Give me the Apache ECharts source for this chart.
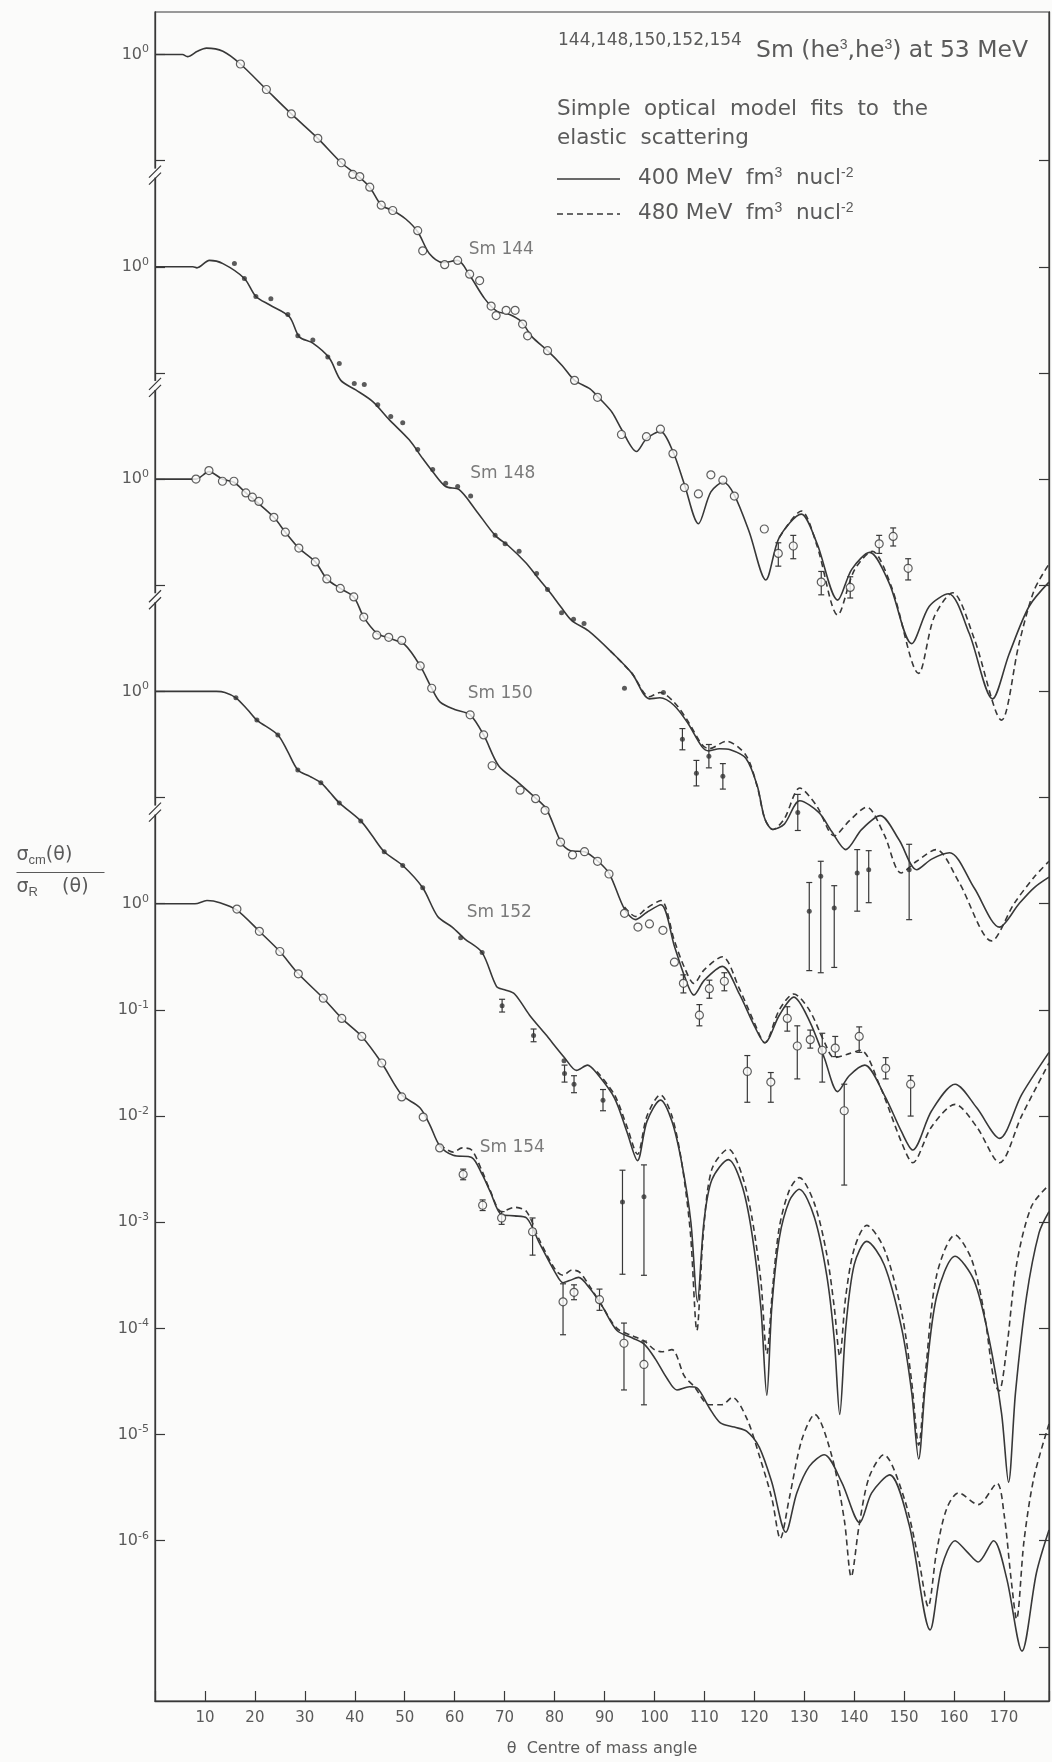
<!DOCTYPE html>
<html><head><meta charset="utf-8">
<script src="https://cdn.jsdelivr.net/npm/echarts/dist/echarts.min.js"></script>
<style>html,body{margin:0;padding:0;background:#fbfbfa}#chart{width:1052px;height:1762px}</style>
</head><body><div id="chart"></div>
<script>
// ---- values: [angle (deg), log10(sigma_cm / sigma_R)] ----
// Sm 144
const sm144Fit400 = [[0,0],[5.5,0],[6.5,-0.02],[8.5,0.03],[10.3,0.06],[13.6,0.03],[17.1,-0.09],[22.3,-0.33],[27.3,-0.56],[32.6,-0.79],[37.3,-1.02],[40.3,-1.13],[43,-1.25],[45.3,-1.42],[47.6,-1.47],[50.2,-1.55],[52.6,-1.67],[55,-1.88],[57.6,-1.96],[60.6,-1.94],[63,-2.08],[66,-2.3],[68.5,-2.42],[71,-2.45],[73.4,-2.52],[75.5,-2.66],[78.6,-2.79],[81.5,-2.93],[84,-3.07],[87.1,-3.15],[89,-3.24],[91.5,-3.37],[93.4,-3.53],[96.4,-3.74],[98.4,-3.62],[101.2,-3.55],[103.7,-3.74],[106,-4.05],[108.8,-4.42],[111.3,-4.12],[113.8,-4.03],[116,-4.15],[119,-4.5],[122.3,-4.95],[125,-4.55],[129.4,-4.33],[132.5,-4.6],[136.7,-5.14],[139.5,-4.85],[143.1,-4.69],[147,-4.98],[151.5,-5.55],[155,-5.2],[158.9,-5.08],[163,-5.45],[167.7,-6.07],[171,-5.65],[175,-5.2],[179,-4.97]];
const sm144Fit480 = [[125,-4.55],[129.4,-4.3],[132.5,-4.62],[136.7,-5.28],[140,-4.86],[143.6,-4.68],[147.5,-5.02],[152.9,-5.83],[156,-5.3],[159.7,-5.07],[164,-5.5],[169.5,-6.27],[173,-5.55],[176,-5.05],[179,-4.8]];
const sm144Data = [[17.1,-0.09],[22.3,-0.33],[27.3,-0.56],[32.6,-0.79],[37.3,-1.02],[39.6,-1.13],[41,-1.15],[43,-1.25],[45.3,-1.42],[47.6,-1.47],[52.6,-1.66],[53.6,-1.85],[58,-1.98],[60.6,-1.94],[63,-2.07],[65,-2.13],[67.3,-2.37],[68.3,-2.46],[70.3,-2.41],[72.1,-2.41],[73.6,-2.54],[74.6,-2.65],[78.6,-2.79],[84,-3.07],[88.6,-3.23],[93.4,-3.58],[98.4,-3.60],[101.2,-3.53],[103.7,-3.76],[106,-4.08],[108.8,-4.14],[111.3,-3.96],[113.7,-4.01],[116,-4.16],[122,-4.47]];
const sm144Err = [[124.8,-4.70,-4.60,-4.82],[127.8,-4.63,-4.53,-4.75],[133.4,-4.97,-4.87,-5.09],[139.2,-5.02,-4.92,-5.12],[145,-4.61,-4.53,-4.70],[147.8,-4.54,-4.46,-4.63],[150.8,-4.84,-4.75,-4.95]];
// Sm 148
const sm148Fit400 = [[0,0],[7.6,0],[8.4,-0.01],[10.9,0.06],[13.6,0.03],[17.9,-0.11],[20.2,-0.28],[23,-0.36],[26.9,-0.47],[28.9,-0.66],[31.6,-0.72],[34.9,-0.86],[37.2,-1.07],[40.2,-1.16],[43.6,-1.27],[46.9,-1.44],[50.9,-1.63],[53.5,-1.8],[55.6,-1.93],[58.2,-2.07],[60.9,-2.10],[64.2,-2.29],[68.1,-2.53],[70.8,-2.63],[74.3,-2.79],[76.5,-2.92],[79.3,-3.08],[81.2,-3.2],[83.4,-3.33],[86.8,-3.43],[91.2,-3.62],[95.5,-3.83],[99,-4.07],[101.1,-4.06],[103.9,-4.13],[106.7,-4.30],[109.5,-4.52],[110.9,-4.56],[113,-4.54],[115.2,-4.55],[118.3,-4.63],[120.6,-4.89],[122.1,-5.2],[123.7,-5.30],[126,-5.25],[129.1,-5.03],[132.9,-5.14],[135.5,-5.32],[138.3,-5.49],[141.5,-5.3],[145.2,-5.17],[149,-5.4],[152.5,-5.68],[155.5,-5.58],[159.1,-5.52],[164,-5.85],[169.1,-6.22],[173,-6.0],[176,-5.85],[179,-5.75]];
const sm148Fit480 = [[91.2,-3.62],[95.5,-3.83],[99,-4.05],[101.1,-4.01],[103.9,-4.1],[106.7,-4.28],[109.5,-4.5],[110.9,-4.54],[114.4,-4.47],[118.3,-4.6],[120.6,-4.9],[122.1,-5.2],[123.7,-5.3],[126,-5.2],[129.1,-4.91],[132.5,-5.08],[136,-5.36],[139,-5.22],[142.5,-5.09],[146,-5.35],[149.4,-5.71],[152.5,-5.6],[156.4,-5.49],[161,-5.8],[167.5,-6.35],[172,-6.0],[176,-5.75],[179,-5.6]];
const sm148Data = [[15.9,0.03],[17.9,-0.11],[20.2,-0.28],[23.2,-0.30],[26.6,-0.45],[28.6,-0.65],[31.6,-0.69],[34.6,-0.85],[36.9,-0.91],[39.9,-1.10],[41.9,-1.11],[44.6,-1.30],[47.2,-1.41],[49.6,-1.47],[52.6,-1.72],[55.6,-1.91],[58.2,-2.04],[60.6,-2.07],[63.2,-2.16],[68.1,-2.53],[70.1,-2.61],[72.9,-2.68],[76.4,-2.89],[78.6,-3.04],[81.4,-3.26],[83.8,-3.32],[85.9,-3.36],[94,-3.97],[101.8,-4.01]];
const sm148Err = [[105.6,-4.45,-4.35,-4.55],[108.4,-4.77,-4.65,-4.89],[110.9,-4.61,-4.50,-4.72],[113.7,-4.80,-4.68,-4.92],[128.7,-5.14,-4.97,-5.31],[131,-6.07,-5.80,-6.63],[133.3,-5.74,-5.60,-6.65],[136,-6.04,-5.83,-6.60],[140.6,-5.71,-5.49,-6.07],[142.9,-5.68,-5.50,-5.99],[151,-5.68,-5.44,-6.15]];
// Sm 150
const sm150Fit400 = [[0,0],[8.2,0],[10.8,0.07],[13.5,0.0],[15.8,-0.03],[18.2,-0.13],[20,-0.2],[23.8,-0.36],[26.1,-0.50],[28.8,-0.65],[32.1,-0.78],[34.4,-0.94],[37.1,-1.03],[39.8,-1.11],[41.8,-1.30],[44.4,-1.45],[47,-1.50],[50,-1.56],[53.1,-1.76],[55.4,-1.97],[57.1,-2.10],[60,-2.17],[63.1,-2.22],[65.8,-2.41],[68.8,-2.70],[72.3,-2.84],[76.1,-3.00],[78.4,-3.11],[81.3,-3.42],[83.2,-3.50],[86,-3.51],[88.7,-3.60],[91,-3.72],[94,-4.05],[96.2,-4.15],[98.5,-4.08],[101.3,-4.01],[104,-4.4],[106,-4.68],[107.9,-4.86],[110,-4.72],[113.6,-4.59],[117,-4.85],[120,-5.15],[122.1,-5.31],[125,-5.05],[127.9,-4.88],[131,-5.1],[134,-5.45],[136.7,-5.77],[139,-5.62],[142.1,-5.52],[146,-5.8],[149.5,-6.15],[151.7,-6.32],[155.5,-5.95],[160.2,-5.70],[164.5,-5.92],[169.1,-6.21],[173.5,-5.8],[179,-5.4]];
const sm150Fit480 = [[94,-4.03],[96.2,-4.12],[98.5,-4.04],[101.3,-3.97],[104,-4.35],[106,-4.6],[107.9,-4.75],[110,-4.62],[113.6,-4.5],[117,-4.8],[120,-5.12],[122.1,-5.31],[125,-5.0],[127.9,-4.85],[131,-5.0],[134,-5.3],[136,-5.45],[138.5,-5.42],[141.3,-5.38],[145,-5.7],[149.5,-6.25],[151.7,-6.44],[155.5,-6.1],[160.2,-5.89],[164.5,-6.1],[169.1,-6.44],[173.5,-6.0],[179,-5.5]];
const sm150Data = [[8.2,0],[10.8,0.08],[13.5,-0.02],[15.8,-0.02],[18.2,-0.13],[19.5,-0.17],[20.8,-0.21],[23.8,-0.36],[26.1,-0.50],[28.8,-0.65],[32.1,-0.78],[34.4,-0.94],[37.1,-1.03],[39.8,-1.11],[41.8,-1.30],[44.4,-1.47],[46.8,-1.49],[49.4,-1.52],[53.1,-1.76],[55.4,-1.97],[63.1,-2.22],[65.8,-2.41],[67.5,-2.70],[73.1,-2.93],[76.2,-3.01],[78.1,-3.12],[81.2,-3.42],[83.6,-3.54],[86,-3.51],[88.6,-3.60],[90.9,-3.72],[94,-4.09],[96.7,-4.22],[99,-4.19],[101.7,-4.25],[104,-4.55]];
const sm150Err = [[105.8,-4.75,-4.67,-4.84],[109,-5.05,-4.95,-5.15],[111,-4.80,-4.72,-4.89],[114,-4.73,-4.65,-4.82],[118.6,-5.58,-5.43,-5.87],[123.3,-5.68,-5.59,-5.87],[126.6,-5.08,-4.97,-5.20],[128.6,-5.34,-5.15,-5.65],[131.2,-5.28,-5.19,-5.36],[133.6,-5.38,-5.22,-5.68],[136.2,-5.36,-5.25,-5.44],[138,-5.95,-5.70,-6.65],[141,-5.25,-5.16,-5.40],[146.3,-5.55,-5.45,-5.65],[151.3,-5.70,-5.62,-6.00]];
// Sm 152
const sm152Fit400 = [[0,0],[12.3,0],[14,-0.01],[16.2,-0.06],[18.5,-0.17],[20.4,-0.27],[24.6,-0.41],[26.5,-0.56],[28.6,-0.74],[31,-0.8],[33.2,-0.86],[35,-0.95],[36.9,-1.05],[41.2,-1.22],[43.5,-1.36],[45.9,-1.51],[49.6,-1.64],[53.6,-1.85],[56.6,-2.12],[59.5,-2.22],[62,-2.33],[65.5,-2.46],[68.4,-2.78],[70,-2.81],[72,-2.85],[75,-3.05],[78.2,-3.23],[82,-3.45],[84.4,-3.57],[86.6,-3.52],[88.5,-3.6],[92,-3.83],[94.5,-4.15],[96.6,-4.42],[98.5,-4.05],[101.2,-3.85],[103.5,-4.05],[105.5,-4.45],[107.3,-5.0],[108.6,-5.75],[109.9,-5.0],[111.5,-4.6],[114.8,-4.41],[117.5,-4.65],[119.5,-5.1],[121.3,-5.8],[122.5,-6.63],[123.5,-5.8],[125,-5.15],[127,-4.8],[129,-4.69],[132,-4.95],[134.5,-5.5],[136,-6.1],[137.1,-6.81],[138.3,-6.0],[140,-5.4],[142.5,-5.18],[146,-5.4],[149.5,-6.0],[151.5,-6.6],[152.9,-7.23],[154.3,-6.5],[156.5,-5.7],[160.2,-5.32],[164,-5.55],[167,-6.1],[169.5,-6.8],[170.9,-7.45],[172.3,-6.6],[174.5,-5.7],[177,-5.1],[179,-4.9]];
const sm152Fit480 = [[88.5,-3.58],[92,-3.8],[94.5,-4.1],[96.6,-4.36],[98.5,-4.0],[101.2,-3.80],[103.5,-4.0],[105.5,-4.45],[107.2,-5.1],[108.5,-6.02],[109.8,-5.1],[111.5,-4.5],[114.8,-4.31],[117.5,-4.55],[119.5,-4.95],[121.3,-5.55],[122.5,-6.24],[123.7,-5.6],[125,-5.05],[127,-4.7],[129,-4.58],[132,-4.82],[134.5,-5.3],[136,-5.8],[137.1,-6.26],[138.3,-5.7],[140,-5.25],[142.5,-5.03],[146,-5.25],[149.5,-5.85],[151.5,-6.5],[152.9,-7.1],[154.3,-6.4],[156.5,-5.5],[160.2,-5.12],[163.5,-5.35],[166,-5.85],[168,-6.5],[169,-6.59],[170.5,-6.2],[172.5,-5.4],[175.5,-4.85],[179,-4.65]];
const sm152Data = [[16.2,-0.06],[20.4,-0.27],[24.6,-0.41],[28.6,-0.74],[33.2,-0.86],[36.9,-1.05],[41.2,-1.22],[45.9,-1.51],[49.6,-1.64],[53.6,-1.85],[61.2,-2.32],[65.5,-2.46],[81.9,-3.48]];
const sm152Err = [[69.5,-2.96,-2.90,-3.02],[75.8,-3.24,-3.18,-3.30],[82,-3.60,-3.52,-3.68],[83.9,-3.70,-3.62,-3.78],[89.7,-3.85,-3.75,-3.95],[93.6,-4.81,-4.51,-5.49],[97.9,-4.76,-4.46,-5.50]];
// Sm 154
const sm154Fit400 = [[0,0],[8,0],[10.4,0.03],[13,0.01],[16.4,-0.06],[20.9,-0.26],[25,-0.45],[28.7,-0.66],[33.7,-0.89],[37.4,-1.08],[41.4,-1.25],[45.4,-1.50],[49.4,-1.80],[53,-1.92],[55,-2.08],[57,-2.28],[59.7,-2.37],[63.4,-2.39],[65.5,-2.55],[67.1,-2.71],[69.4,-2.93],[72,-2.94],[74.4,-2.96],[77,-3.2],[80.2,-3.48],[81.7,-3.57],[83,-3.55],[84.8,-3.52],[87,-3.62],[89.4,-3.78],[92.5,-4.02],[95.6,-4.09],[98,-4.15],[100.2,-4.29],[102.5,-4.47],[104.5,-4.58],[107,-4.55],[108.5,-4.56],[111,-4.75],[113.2,-4.89],[116,-4.93],[118.5,-4.97],[121,-5.12],[123.5,-5.45],[126.3,-5.92],[128.5,-5.55],[131,-5.3],[134,-5.19],[137.5,-5.45],[141.1,-5.83],[143.5,-5.55],[147.1,-5.38],[151,-5.85],[155.2,-6.84],[157.5,-6.25],[160.2,-6.00],[162.5,-6.1],[164.8,-6.2],[167.9,-6.00],[170.5,-6.35],[173.6,-7.04],[176.5,-6.3],[179,-5.9]];
const sm154Fit480 = [[57,-2.27],[59.7,-2.34],[61.5,-2.30],[63.4,-2.32],[65.5,-2.52],[67.1,-2.70],[69.4,-2.9],[72.1,-2.86],[74.4,-2.9],[77,-3.17],[80.2,-3.45],[81.7,-3.5],[83.5,-3.45],[85,-3.47],[87,-3.6],[89.4,-3.78],[92.5,-4.0],[95.6,-4.07],[98,-4.12],[100,-4.2],[101.5,-4.22],[103.5,-4.2],[106,-4.45],[108,-4.55],[111,-4.72],[113.5,-4.72],[115.6,-4.65],[118.5,-4.85],[121,-5.2],[123.5,-5.6],[125.2,-5.98],[127,-5.6],[129.5,-5.05],[132.1,-4.81],[135.5,-5.2],[138,-5.8],[139.4,-6.34],[141,-5.85],[143,-5.4],[145.9,-5.19],[150,-5.6],[153,-6.2],[154.8,-6.62],[156.5,-6.1],[158.5,-5.7],[160.9,-5.55],[164.8,-5.66],[168.6,-5.46],[170,-5.75],[171.5,-6.4],[172.5,-6.74],[174,-6.0],[176,-5.4],[179,-4.9]];
const sm154Data = [[16.4,-0.05],[20.9,-0.26],[25,-0.45],[28.7,-0.66],[33.7,-0.89],[37.4,-1.08],[41.4,-1.25],[45.4,-1.50],[49.4,-1.82],[53.7,-2.01],[57,-2.30]];
const sm154Err = [[61.7,-2.55,-2.50,-2.60],[65.6,-2.84,-2.79,-2.89],[69.4,-2.96,-2.90,-3.02],[75.6,-3.09,-2.96,-3.31],[81.7,-3.75,-3.58,-4.06],[83.9,-3.66,-3.59,-3.73],[89,-3.73,-3.63,-3.83],[93.9,-4.14,-3.95,-4.58],[97.9,-4.34,-4.12,-4.72]];

// ---- labels / ticks ----
const isotopes = ['Sm 144','Sm 148','Sm 150','Sm 152','Sm 154'];
const decadeShift = [8, 6, 4, 2, 0];
const labelAnchor = [[62.8,-1.84],[63.1,-1.95],[62.6,-2.02],[62.4,-2.08],[65,-2.30]];
const yLabelValues = [8, 6, 4, 2, 0, -1, -2, -3, -4, -5, -6];
const yBreaks = [7, 5, 3, 1];
const rightTicks = [-7,-6,-5,-4,-3,-2,-1,0,1,2,3,4,5,6,7];
const xTickLabels = [10,20,30,40,50,60,70,80,90,100,110,120,130,140,150,160,170];

const BG = '#fbfbfa', INK = '#383838', TXT = '#5a5a5a';
const FONT = 'DejaVu Sans';

const sets = [
  {fit400: sm144Fit400, fit480: sm144Fit480, pts: sm144Data, err: sm144Err, open: true},
  {fit400: sm148Fit400, fit480: sm148Fit480, pts: sm148Data, err: sm148Err, open: false},
  {fit400: sm150Fit400, fit480: sm150Fit480, pts: sm150Data, err: sm150Err, open: true},
  {fit400: sm152Fit400, fit480: sm152Fit480, pts: sm152Data, err: sm152Err, open: false},
  {fit400: sm154Fit400, fit480: sm154Fit480, pts: sm154Data, err: sm154Err, open: true}
];

function shift(arr, d) { return arr.map(p => [p[0], p[1] + d]); }

function errRender(params, api) {
  const x = api.value(0);
  const lo = api.coord([x, api.value(2)]);
  const hi = api.coord([x, api.value(3)]);
  const w = 3, st = {stroke: INK, lineWidth: 1.2};
  return {type: 'group', children: [
    {type: 'line', shape: {x1: lo[0], y1: lo[1], x2: hi[0], y2: hi[1]}, style: st},
    {type: 'line', shape: {x1: lo[0]-w, y1: lo[1], x2: lo[0]+w, y2: lo[1]}, style: st},
    {type: 'line', shape: {x1: hi[0]-w, y1: hi[1], x2: hi[0]+w, y2: hi[1]}, style: st}
  ]};
}
function breakRender(params, api) {
  const p = api.coord([0, api.value(1)]);
  const x = p[0], y = p[1], st = {stroke: INK, lineWidth: 1.2};
  return {type: 'group', children: [
    {type: 'rect', shape: {x: x-2, y: y+8, width: 4, height: 9}, style: {fill: BG}},
    {type: 'line', shape: {x1: x-6, y1: y+17, x2: x+6, y2: y+5}, style: st},
    {type: 'line', shape: {x1: x-6, y1: y+24, x2: x+6, y2: y+12}, style: st}
  ]};
}

const series = [];
sets.forEach((s, i) => {
  const d = decadeShift[i];
  series.push({type: 'line', data: shift(s.fit400, d), smooth: 0.3, showSymbol: false, symbol: 'none',
    lineStyle: {color: INK, width: 1.6}, z: 3});
  series.push({type: 'line', data: shift(s.fit480, d), smooth: 0.3, showSymbol: false, symbol: 'none',
    lineStyle: {color: INK, width: 1.6, type: [6, 4]}, z: 3});
  series.push({type: 'custom', renderItem: errRender, data: s.err.map(e => [e[0], e[1]+d, e[2]+d, e[3]+d]),
    encode: {x: 0, y: 1}, z: 4});
  const pts = s.pts.concat(s.err.map(e => [e[0], e[1]]));
  series.push({type: 'scatter', data: shift(pts, d), symbol: 'circle',
    symbolSize: s.open ? 8 : 5,
    itemStyle: s.open ? {color: BG, borderColor: INK, borderWidth: 1.2} : {color: '#333'}, z: 5});
  series.push({type: 'scatter', data: [[labelAnchor[i][0], labelAnchor[i][1] + d]], symbolSize: 0,
    label: {show: true, position: 'right', distance: 0, formatter: isotopes[i], fontSize: 17, color: TXT, fontFamily: FONT}, z: 6});
});
series.push({type: 'custom', renderItem: breakRender, data: yBreaks.map(v => [0, v]), encode: {x: 0, y: 1}, clip: false, z: 10});

const sup = {fontSize: 11, color: TXT, fontFamily: FONT, padding: [0, 0, 10, 0]};

const chart = echarts.init(document.getElementById('chart'), null, {renderer: 'canvas'});
chart.setOption({
  backgroundColor: BG,
  animation: false,
  textStyle: {fontFamily: FONT},
  grid: {left: 155, right: 2, top: 12, bottom: 59, show: true, borderColor: INK, borderWidth: 1.2, backgroundColor: 'transparent'},
  xAxis: {
    type: 'value', min: 0, max: 179, interval: 10,
    axisLine: {onZero: false, lineStyle: {color: INK, width: 1.3}},
    axisTick: {inside: true, length: 10, lineStyle: {color: INK, width: 1.2}},
    axisLabel: {fontSize: 15, color: TXT, margin: 10, formatter: v => xTickLabels.indexOf(v) >= 0 ? String(v) : ''},
    splitLine: {show: false},
    name: 'θ  Centre of mass angle', nameLocation: 'middle', nameGap: 40,
    nameTextStyle: {fontSize: 16, color: TXT}
  },
  yAxis: [{
    type: 'value', min: -7.51, max: 8.40, position: 'left',
    axisLine: {show: true, onZero: false, lineStyle: {color: INK, width: 1.3}},
    axisTick: {show: true, inside: true, length: 10, customValues: yLabelValues.concat(yBreaks), lineStyle: {color: INK, width: 1.2}},
    axisLabel: {
      customValues: yLabelValues, margin: 6,
      formatter: v => '{b|10}{s|' + (v > 0 ? 0 : Math.round(v)) + '}',
      rich: {b: {fontSize: 16, color: TXT, fontFamily: FONT}, s: sup}
    },
    splitLine: {show: false}
  }, {
    type: 'value', min: -7.51, max: 8.40, position: 'right',
    axisLine: {show: true, onZero: false, lineStyle: {color: INK, width: 1.3}},
    axisTick: {show: true, inside: true, length: 10, customValues: rightTicks, lineStyle: {color: INK, width: 1.2}},
    axisLabel: {show: false}, splitLine: {show: false}
  }],
  graphic: [
    {type: 'text', left: 558, top: 32, style: {text: '144,148,150,152,154', fontSize: 17, fontFamily: FONT, fill: TXT}},
    {type: 'text', left: 756, top: 38, style: {text: 'Sm (he{s|3},he{s|3}) at 53 MeV', fontSize: 23.5, fontFamily: FONT, fill: TXT, rich: {s: {fontSize: 14, fill: TXT, padding: [0, 0, 12, 0]}}}},
    {type: 'text', left: 557, top: 95, style: {text: 'Simple  optical  model  fits  to  the\nelastic  scattering', fontSize: 21.5, lineHeight: 29, fontFamily: FONT, fill: TXT}},
    {type: 'line', shape: {x1: 557, y1: 179, x2: 620, y2: 179}, style: {stroke: INK, lineWidth: 1.4}},
    {type: 'text', left: 638, top: 166, style: {text: '400 MeV  fm{s|3}  nucl{s|-2}', fontSize: 21.5, fontFamily: FONT, fill: TXT, rich: {s: {fontSize: 14, fill: TXT, padding: [0, 0, 11, 0]}}}},
    {type: 'line', shape: {x1: 557, y1: 214, x2: 620, y2: 214}, style: {stroke: INK, lineWidth: 1.4, lineDash: [6, 4]}},
    {type: 'text', left: 638, top: 201, style: {text: '480 MeV  fm{s|3}  nucl{s|-2}', fontSize: 21.5, fontFamily: FONT, fill: TXT, rich: {s: {fontSize: 14, fill: TXT, padding: [0, 0, 11, 0]}}}},
    {type: 'group', left: 14, top: 846, children: [
      {type: 'text', x: 0, y: 0, style: {text: 'σ{c|cm}(θ)', fontSize: 19, fontFamily: FONT, fill: TXT, rich: {c: {fontSize: 13, fill: TXT, padding: [9, 0, 0, 0]}}}},
      {type: 'line', shape: {x1: 0, y1: 28, x2: 88, y2: 28}, style: {stroke: TXT, lineWidth: 1.2}},
      {type: 'text', x: 0, y: 32, style: {text: 'σ{c|R}    (θ)', fontSize: 19, fontFamily: FONT, fill: TXT, rich: {c: {fontSize: 13, fill: TXT, padding: [9, 0, 0, 0]}}}}
    ]}
  ],
  series: series
});
</script></body></html>
